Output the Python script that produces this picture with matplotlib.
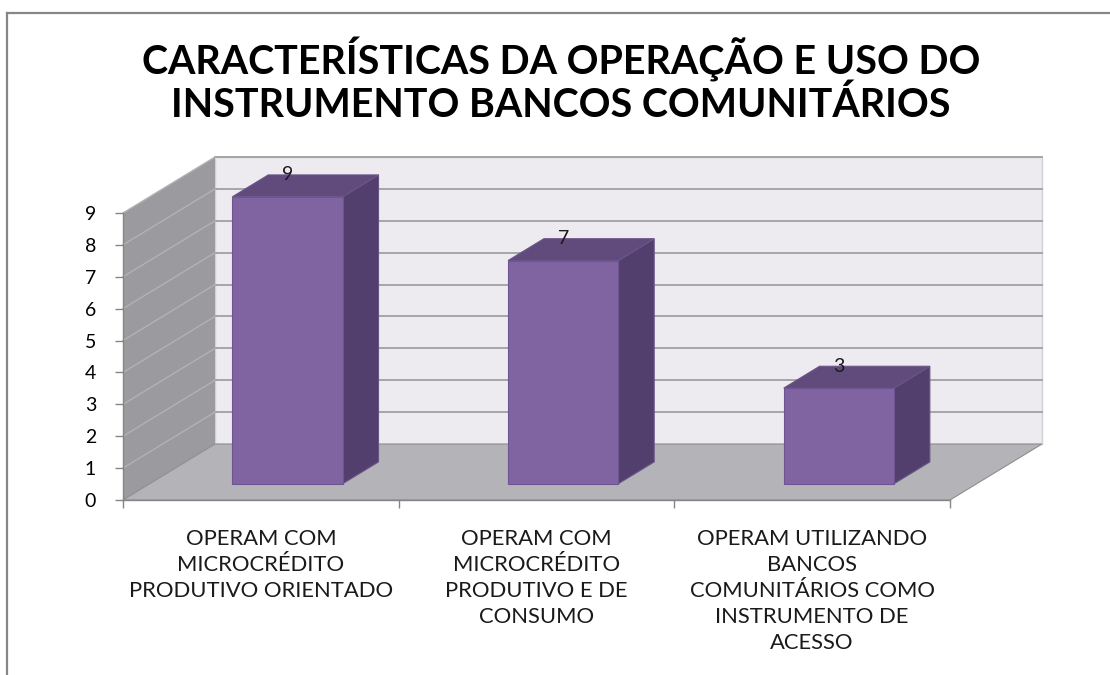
import matplotlib
matplotlib.use("Agg")
import matplotlib.pyplot as plt
from matplotlib.patches import Polygon
from matplotlib.lines import Line2D

# ---------------- data ----------------
title_lines = ["CARACTERÍSTICAS DA OPERAÇÃO E USO DO",
               "INSTRUMENTO BANCOS COMUNITÁRIOS"]
categories = ["OPERAM COM\nMICROCRÉDITO\nPRODUTIVO ORIENTADO",
              "OPERAM COM\nMICROCRÉDITO\nPRODUTIVO E DE\nCONSUMO",
              "OPERAM UTILIZANDO\nBANCOS\nCOMUNITÁRIOS COMO\nINSTRUMENTO DE\nACESSO"]
values = [9, 7, 3]
y_ticks = [0, 1, 2, 3, 4, 5, 6, 7, 8, 9]

# ---------------- style ----------------
FONT = ["Lato", "DejaVu Sans"]
plt.rcParams["font.family"] = FONT
W, H = 1110, 675
AX_L, AX_R, AX_T, AX_B = 123, 950, 213, 500   # front plane in px
DEPTH_PX = (92, 56)                             # oblique depth offset in px
BAR_D0, BAR_D1 = 0.29, 0.68                     # bar depth span (fraction)
BAR_HALF = 0.2

C_FRONT = "#8064A2"
C_TOP = "#614B7D"
C_SIDE = "#533F6D"
C_BACK = "#EDEBF0"
C_LEFT = "#9B9A9E"
C_FLOOR = "#B4B3B7"
C_GRID = "#A0A0A2"
C_AXIS = "#868686"

fig = plt.figure(figsize=(W / 100, H / 100), dpi=100)
fig.patch.set_facecolor("white")
renderer = fig.canvas.get_renderer()


def fit_size(txt, target_px, base=20.0):
    """font size that gives the text a given pixel width"""
    t = fig.text(0, 0, txt, fontsize=base, fontweight=txt_weight[0])
    w = t.get_window_extent(renderer).width
    t.remove()
    return base * target_px / w


txt_weight = ["bold"]

# outer frame (cropped chart border)
fig.add_artist(Line2D([7 / W, 1], [1 - 13 / H, 1 - 13 / H], color="#878787", lw=1.6))
fig.add_artist(Line2D([7 / W, 7 / W], [0, 1 - 13 / H], color="#878787", lw=1.6))

ax = fig.add_axes([AX_L / W, (H - AX_B) / H, (AX_R - AX_L) / W, (AX_B - AX_T) / H])
n = len(categories)
y_max = max(y_ticks)
ax.set_xlim(-0.5, n - 0.5)
ax.set_ylim(0, y_max)
ax.patch.set_visible(False)

DX = DEPTH_PX[0] / (AX_R - AX_L) * n
DY = DEPTH_PX[1] / (AX_B - AX_T) * y_max


def P(x, y, d):
    return (x + d * DX, y + d * DY)


x0, x1 = -0.5, n - 0.5
# walls and floor
ax.add_patch(Polygon([P(x0, 0, 1), P(x1, 0, 1), P(x1, y_max, 1), P(x0, y_max, 1)],
                     closed=True, fc=C_BACK, ec="#D2D1D5", lw=1, clip_on=False, zorder=0.5))
ax.add_patch(Polygon([P(x0, 0, 0), P(x0, 0, 1), P(x0, y_max, 1), P(x0, y_max, 0)],
                     closed=True, fc=C_LEFT, ec="none", clip_on=False, zorder=0.6))
ax.add_patch(Polygon([P(x0, 0, 0), P(x1, 0, 0), P(x1, 0, 1), P(x0, 0, 1)],
                     closed=True, fc=C_FLOOR, ec="#8E8E90", lw=0.8, clip_on=False, zorder=0.7))

# gridlines
for v in y_ticks[1:]:
    a, b = P(x0, v, 1), P(x1, v, 1)
    ax.plot([a[0], b[0]], [a[1], b[1]], color=C_GRID, lw=1.3, clip_on=False, zorder=0.8)
    a, b = P(x0, v, 0), P(x0, v, 1)
    ax.plot([a[0], b[0]], [a[1], b[1]], color="#B2B1B4", lw=1.0, clip_on=False, zorder=0.8)

# axes styling
for s in ["top", "right"]:
    ax.spines[s].set_visible(False)
for s in ["left", "bottom"]:
    ax.spines[s].set_color(C_AXIS)
    ax.spines[s].set_linewidth(1.0)
ax.set_yticks(y_ticks)
ax.set_yticklabels([str(t) for t in y_ticks])
ax.set_xticks([k - 0.5 for k in range(n + 1)])
ax.set_xticklabels([])
ax.tick_params(axis="both", direction="out", length=8 * 0.72, width=1.0, color=C_AXIS)
ax.tick_params(axis="y", pad=19 * 0.72, labelsize=14)

# bars
for i, v in enumerate(values):
    bx0, bx1 = i - BAR_HALF, i + BAR_HALF
    front = [P(bx0, 0, BAR_D0), P(bx1, 0, BAR_D0), P(bx1, v, BAR_D0), P(bx0, v, BAR_D0)]
    side = [P(bx1, 0, BAR_D0), P(bx1, 0, BAR_D1), P(bx1, v, BAR_D1), P(bx1, v, BAR_D0)]
    top = [P(bx0, v, BAR_D0), P(bx1, v, BAR_D0), P(bx1, v, BAR_D1), P(bx0, v, BAR_D1)]
    ax.add_patch(Polygon(side, closed=True, fc=C_SIDE, ec="#6A5589", lw=0.8, clip_on=False, zorder=3))
    ax.add_patch(Polygon(top, closed=True, fc=C_TOP, ec="#6A5589", lw=0.8, clip_on=False, zorder=3))
    ax.add_patch(Polygon(front, closed=True, fc=C_FRONT, ec="#6E5492", lw=0.8, clip_on=False, zorder=3))
    lx, _ = P(i, v, BAR_D0)
    _, ly = P(i, v, BAR_D1)
    ax.text(lx, ly, str(v), ha="center", va="center", fontsize=14, color="#1A1A1A",
            zorder=4, clip_on=False)

# category labels
txt_weight[0] = "normal"
cat_size = fit_size("PRODUTIVO ORIENTADO", 264)
xt = ax.get_xaxis_transform()
for i, lab in enumerate(categories):
    for k, line in enumerate(lab.split("\n")):
        py = 545 + 26 * k
        ax.text(i, (AX_B - py) / (AX_B - AX_T), line, transform=xt, ha="center",
                va="baseline", fontsize=cat_size, color="#1A1A1A", clip_on=False)

# title
txt_weight[0] = "bold"
title_size = fit_size(title_lines[0], 840)
for k, line in enumerate(title_lines):
    py = 75 + 42 * k
    fig.text(561 / W, 1 - py / H, line, ha="center", va="baseline", fontsize=title_size,
             fontweight="bold", color="black")

fig.savefig("out.png", dpi=100)
